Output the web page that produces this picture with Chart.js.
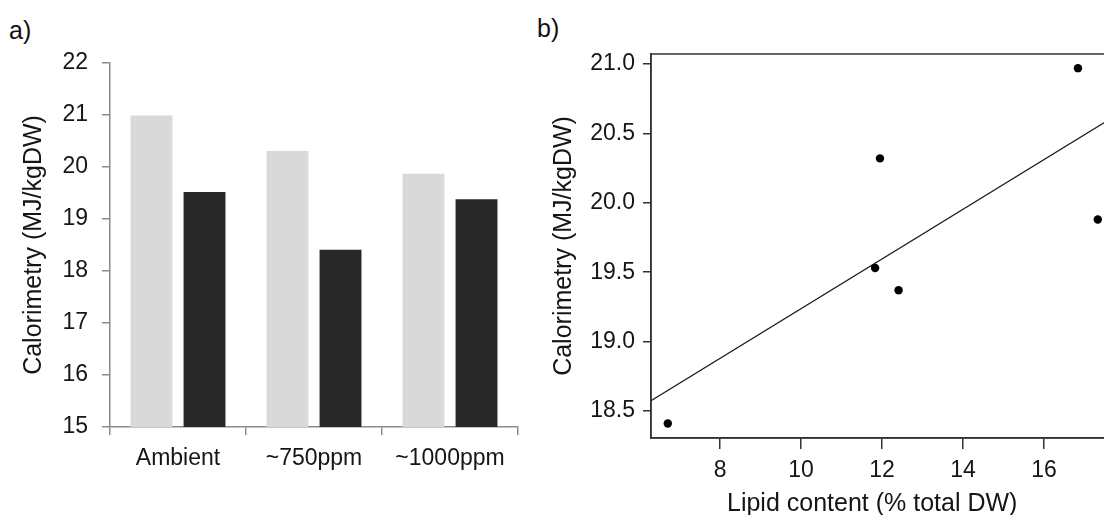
<!DOCTYPE html>
<html>
<head>
<meta charset="utf-8">
<script src="https://cdn.jsdelivr.net/npm/chart.js@4"></script>
<style>
  html, body { margin: 0; padding: 0; background: #fff; overflow: hidden; }
  body { width: 1104px; height: 515px; position: relative; font-family: "Liberation Sans", Arial, sans-serif; }
  .panel-label { position: absolute; font-size: 25px; color: #111; line-height: 1; }
  .axis-label { position: absolute; font-size: 25px; color: #151515; line-height: 1; white-space: nowrap; }
  #wrapA { position: absolute; left: 0; top: 0; }
  #wrapB { position: absolute; left: 530px; top: 0; }
</style>
</head>
<body>
<div class="panel-label" style="left:9px; top:18px;">a)</div>
<div class="panel-label" style="left:537px; top:16px;">b)</div>
<div id="wrapA"><canvas id="barChart" width="530" height="515"></canvas></div>
<div id="wrapB"><canvas id="fitChart" width="600" height="515"></canvas></div>
<div class="axis-label" style="left:727px; top:490px;">Lipid content (% total DW)</div>
<script>
// Calorimetry by CO2 treatment, two harvests per treatment
const groups = ['Ambient', '~750ppm', '~1000ppm'];
const lightBars = [20.99, 20.31, 19.87];
const darkBars = [19.52, 18.41, 19.38];

// Calorimetry against lipid content (same six samples)
const lipidContent = [16.84, 11.95, 17.33, 11.83, 6.71, 12.41];
const calorimetry = [20.97, 20.32, 19.88, 19.53, 18.41, 19.37];
const lipidTicks = [8, 10, 12, 14, 16];
const calTicks = [18.5, 19.0, 19.5, 20.0, 20.5, 21.0];
const lipidRange = [6.295, 17.755];
const calRange = [18.306, 21.072];

const textColor = '#151515';
const fontFamily = '"Liberation Sans", Arial, sans-serif';
Chart.defaults.font.family = fontFamily;
Chart.defaults.color = textColor;

// least squares line through the scatter
function linearFit(xs, ys) {
  const n = xs.length;
  const mx = xs.reduce((a, b) => a + b, 0) / n;
  const my = ys.reduce((a, b) => a + b, 0) / n;
  let sxy = 0, sxx = 0;
  for (let i = 0; i < n; i++) {
    sxy += (xs[i] - mx) * (ys[i] - my);
    sxx += (xs[i] - mx) * (xs[i] - mx);
  }
  const slope = sxy / sxx;
  return { slope, intercept: my - slope * mx };
}

const axisGrey = '#8c8c8c';

new Chart(document.getElementById('barChart'), {
  type: 'bar',
  data: {
    labels: groups,
    datasets: [
      { data: lightBars, backgroundColor: '#d9d9d9', categoryPercentage: 0.78, barPercentage: 0.79 },
      { data: darkBars, backgroundColor: '#282828', categoryPercentage: 0.78, barPercentage: 0.79 }
    ]
  },
  options: {
    responsive: false,
    animation: false,
    events: [],
    layout: { padding: { top: 63, right: 12, left: 0, bottom: 0 } },
    plugins: { legend: { display: false }, tooltip: { enabled: false } },
    scales: {
      x: {
        grid: { drawOnChartArea: false, drawTicks: true, tickLength: 8, color: axisGrey, lineWidth: 1.5, offset: true },
        border: { color: axisGrey, width: 1.5 },
        ticks: { color: textColor, font: { size: 23 }, padding: 10 },
        afterFit: s => { s.height = 88; }
      },
      y: {
        min: 15,
        max: 22,
        grid: { drawOnChartArea: false, drawTicks: true, tickLength: 8, color: axisGrey, lineWidth: 1.5 },
        border: { color: axisGrey, width: 1.5 },
        ticks: { stepSize: 1, color: textColor, font: { size: 23 }, padding: 14 },
        title: { display: true, text: 'Calorimetry (MJ/kgDW)', color: textColor, font: { size: 25 }, padding: { top: 19, bottom: 0 } },
        afterFit: s => { s.width = 110; }
      }
    }
  }
});

const fit = linearFit(lipidContent, calorimetry);
const fitLine = lipidRange.map(x => ({ x, y: fit.intercept + fit.slope * x }));

// box around the plotting region
const framePlugin = {
  id: 'frame',
  afterDatasetsDraw(chart) {
    const { ctx, chartArea: a } = chart;
    ctx.save();
    ctx.strokeStyle = '#333';
    ctx.lineWidth = 1.5;
    ctx.strokeRect(a.left, a.top, a.right - a.left, a.bottom - a.top);
    ctx.restore();
  }
};

new Chart(document.getElementById('fitChart'), {
  type: 'scatter',
  data: {
    datasets: [
      {
        data: lipidContent.map((x, i) => ({ x, y: calorimetry[i] })),
        backgroundColor: '#000',
        borderColor: '#000',
        pointRadius: 4.2,
        pointBorderWidth: 0
      },
      {
        type: 'line',
        data: fitLine,
        borderColor: '#1a1a1a',
        borderWidth: 1.3,
        pointRadius: 0,
        fill: false
      }
    ]
  },
  options: {
    responsive: false,
    animation: false,
    events: [],
    layout: { padding: { top: 54, right: 15, left: 0, bottom: 0 } },
    plugins: { legend: { display: false }, tooltip: { enabled: false } },
    scales: {
      x: {
        type: 'linear',
        min: lipidRange[0],
        max: lipidRange[1],
        afterBuildTicks: s => { s.ticks = lipidTicks.map(v => ({ value: v })); },
        grid: { drawOnChartArea: false, drawTicks: true, tickLength: 11, color: '#333', lineWidth: 1.5 },
        border: { color: '#333', width: 1.5 },
        ticks: { color: textColor, font: { size: 23 }, padding: 8 },
        afterFit: s => { s.height = 77; }
      },
      y: {
        min: calRange[0],
        max: calRange[1],
        afterBuildTicks: s => { s.ticks = calTicks.map(v => ({ value: v })); },
        grid: { drawOnChartArea: false, drawTicks: true, tickLength: 8, color: '#333', lineWidth: 1.5 },
        border: { color: '#333', width: 1.5 },
        ticks: { color: textColor, font: { size: 23 }, padding: 8, callback: v => Number(v).toFixed(1) },
        title: { display: true, text: 'Calorimetry (MJ/kgDW)', color: textColor, font: { size: 25 }, padding: { top: 19, bottom: 0 } },
        afterFit: s => { s.width = 121; }
      }
    }
  },
  plugins: [framePlugin]
});
</script>
</body>
</html>
